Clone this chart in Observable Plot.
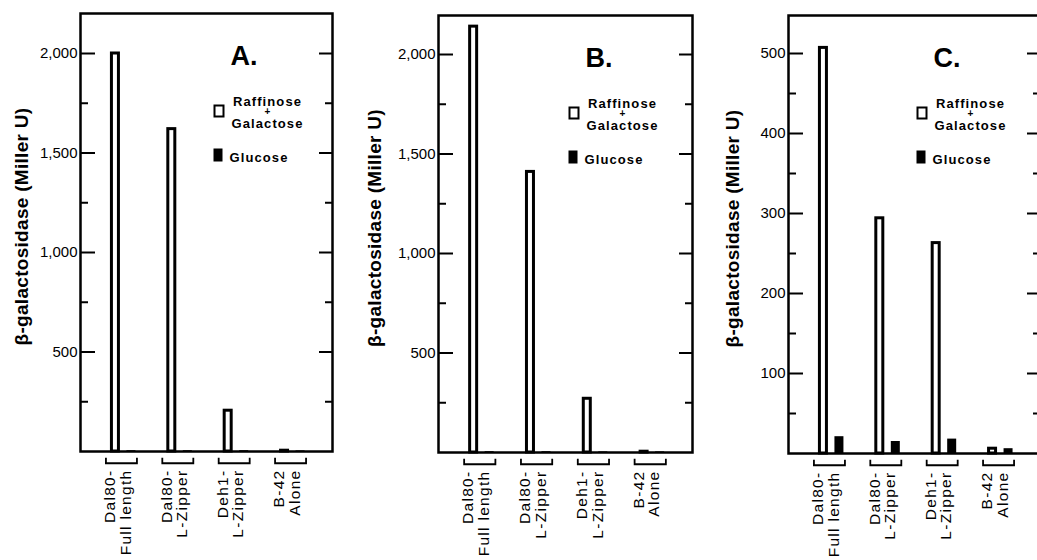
<!DOCTYPE html>
<html><head><meta charset="utf-8">
<script src="https://cdn.jsdelivr.net/npm/d3@7"></script>
<script src="https://cdn.jsdelivr.net/npm/@observablehq/plot@0.6"></script>
<style>
html,body{margin:0;padding:0;background:#fff;overflow:hidden}
#root{position:relative;width:1037px;height:560px;overflow:hidden;background:#fff}
.panel{position:absolute;top:0}
.panel svg{max-width:none !important}
svg g[font-size="15.5"]{letter-spacing:1.3px}
svg g[font-size="13"]{letter-spacing:1.1px}
svg g[font-size="19"]{letter-spacing:0.3px}
</style></head><body><div id="root"></div>
<script>
// ---- data ----
const groups = ["Dal80-\nFull length", "Dal80-\nL-Zipper", "Deh1-\nL-Zipper", "B-42\nAlone"];
const panelLetters = ["A.", "B.", "C."];
const raffinoseA = [2000, 1620, 205, 4];
const glucoseA   = [4, 4, 4, 3];
const raffinoseB = [2140, 1410, 270, 4];
const glucoseB   = [4, 4, 3, 3];
const raffinoseC = [507, 294, 263, 6];
const glucoseC   = [21, 15, 18, 6];
const majorTicksAB = [500, 1000, 1500, 2000];
const minorTicksAB = [250, 750, 1250, 1750];
const majorTicksC  = [100, 200, 300, 400, 500];
const minorTicksC  = [50, 150, 250, 350, 450];
const yTitle = "β-galactosidase (Miller U)";
const legendRaff = ["Raffinose", "+", "Galactose"];
const legendGlu = "Glucose";

// ---- layout ----
const layouts = [
  {left: 0,   width: 342, mL: 80, mR: 10, top: 13, zero: 451, ymax: 2201, titleDx: -58.5, shift: 0},
  {left: 358, width: 344, mL: 80, mR: 10, top: 15, zero: 452, ymax: 2196, titleDx: -64, shift: -3},
  {left: 708, width: 342, mL: 80, mR: 10, top: 15, zero: 453, ymax: 547.5, titleDx: -56, shift: -5}
];
const panels = [
  {letter: panelLetters[0], raff: raffinoseA, glu: glucoseA, major: majorTicksAB, minor: minorTicksAB},
  {letter: panelLetters[1], raff: raffinoseB, glu: glucoseB, major: majorTicksAB, minor: minorTicksAB},
  {letter: panelLetters[2], raff: raffinoseC, glu: glucoseC, major: majorTicksC, minor: minorTicksC}
];

const fmt = d3.format(",");
const padIn = 0.45, padOut = 0.46;
const root = document.getElementById("root");

panels.forEach((p, k) => {
  const L = layouts[k];
  const W = L.width - L.mL - L.mR;
  const H = L.zero - L.top;
  const step = W / (groups.length - padIn + 2 * padOut);
  const bw = step * (1 - padIn);
  const rows = groups.map((g, i) => ({group: g, raff: p.raff[i], glu: p.glu[i]}));
  const s = L.shift;
  const chart = Plot.plot({
    width: L.width, height: 560,
    marginLeft: L.mL, marginRight: L.mR, marginTop: L.top, marginBottom: 560 - L.zero,
    style: {fontFamily: "'Liberation Sans', Arial, Helvetica, sans-serif", background: "white", color: "black", overflow: "visible", maxWidth: "none"},
    x: {type: "band", domain: groups, paddingInner: padIn, paddingOuter: padOut, round: false, axis: null},
    y: {domain: [0, L.ymax], axis: null},
    marks: [
      // ticks, inward on both sides
      Plot.ruleY(p.major, {y: d => d, insetRight: W - 15, strokeWidth: 2, stroke: "black"}),
      Plot.ruleY(p.minor, {y: d => d, insetRight: W - 8, strokeWidth: 2, stroke: "black"}),
      Plot.ruleY(p.major, {y: d => d, insetLeft: W - 13, strokeWidth: 2, stroke: "black"}),
      Plot.ruleY(p.minor, {y: d => d, insetLeft: W - 7, strokeWidth: 2, stroke: "black"}),
      Plot.text(p.major, {y: d => d, text: d => fmt(d), frameAnchor: "left", textAnchor: "end", dx: -3, fontSize: 15, fill: "black"}),
      // bars
      Plot.barY(rows, {x: "group", y: "raff", fill: "white", stroke: "black", strokeWidth: 3, insetLeft: 5.5, insetRight: bw - 12.5}),
      Plot.barY(rows, {x: "group", y: "glu", fill: "black", insetLeft: 20.5, insetRight: bw - 29.5}),
      // frame
      Plot.frame({stroke: "black", strokeWidth: 2.5}),
      // group brackets
      Plot.barY(groups, {x: d => d, y1: 0, y2: 0, insetTop: -2.75, insetBottom: -2.75, dy: 9.5, fill: "none", stroke: "black", strokeWidth: 1.8, strokeDasharray: `0,${bw},${bw + 11}`}),
      // group labels
      Plot.text(groups, {x: d => d, text: d => d, frameAnchor: "bottom", rotate: -90, textAnchor: "end", lineAnchor: "middle", lineHeight: 1.0, dy: 18, dx: -4, fontSize: 15.5, fill: "black"}),
      // y title
      Plot.text([yTitle], {text: d => d, frameAnchor: "left", rotate: -90, textAnchor: "middle", dx: L.titleDx, dy: -6, fontSize: 19, fontWeight: "bold", fill: "black"}),
      // panel letter
      Plot.text([p.letter], {text: d => d, frameAnchor: "top-left", textAnchor: "start", lineAnchor: "bottom", dx: 150 + s, dy: 51, fontSize: 27, fontWeight: "bold", fill: "black"}),
      // legend
      Plot.frame({fill: "white", stroke: "black", strokeWidth: 2, insetLeft: 134 + s, insetRight: W - 143 - s, insetTop: 92, insetBottom: H - 103}),
      Plot.frame({fill: "black", insetLeft: 133 + s, insetRight: W - 142 - s, insetTop: 135, insetBottom: H - 148}),
      Plot.text([legendRaff[0]], {text: d => d, frameAnchor: "top-left", textAnchor: "middle", lineAnchor: "bottom", dx: 187 + s, dy: 92, fontSize: 13, fontWeight: "bold", fill: "black"}),
      Plot.text([legendRaff[1]], {text: d => d, frameAnchor: "top-left", textAnchor: "middle", lineAnchor: "bottom", dx: 187 + s, dy: 101, fontSize: 10, fontWeight: "bold", fill: "black"}),
      Plot.text([legendRaff[2]], {text: d => d, frameAnchor: "top-left", textAnchor: "middle", lineAnchor: "bottom", dx: 187 + s, dy: 114, fontSize: 13, fontWeight: "bold", fill: "black"}),
      Plot.text([legendGlu], {text: d => d, frameAnchor: "top-left", textAnchor: "start", lineAnchor: "bottom", dx: 149 + s, dy: 148, fontSize: 13, fontWeight: "bold", fill: "black"})
    ]
  });
  chart.style.maxWidth = "none";
  const div = document.createElement("div");
  div.className = "panel";
  div.style.left = L.left + "px";
  div.style.width = L.width + "px";
  div.appendChild(chart);
  root.appendChild(div);
});
</script></body></html>
